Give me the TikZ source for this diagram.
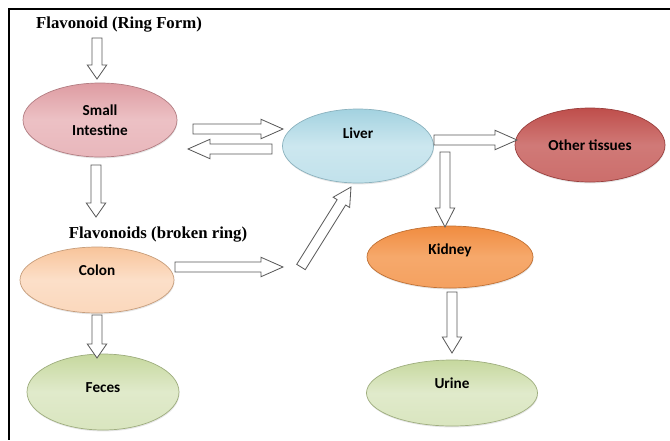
\documentclass[tikz,border=0pt]{standalone}
\usepackage{fontspec}
\setmainfont{Liberation Serif}
\newfontfamily\organfont{Carlito}
\usetikzlibrary{shapes.geometric,calc,shadows}

\definecolor{siPink}{HTML}{DE9CA2}
\definecolor{siPinkL}{HTML}{F1CDD0}
\definecolor{liverBlue}{HTML}{A3D2E0}
\definecolor{liverBlueL}{HTML}{DAEEF4}
\definecolor{tissueRed}{HTML}{BF4E4B}
\definecolor{tissueRedL}{HTML}{D68886}
\definecolor{kidneyOr}{HTML}{F08C40}
\definecolor{kidneyOrL}{HTML}{F8B27A}
\definecolor{colonPeach}{HTML}{F8C49A}
\definecolor{colonPeachL}{HTML}{FDE8D8}
\definecolor{wasteGreen}{HTML}{C6D89E}
\definecolor{wasteGreenL}{HTML}{E9F0DA}

\tikzset{
  organ/.style 2 args = {ellipse, inner sep=0pt, outer sep=0pt,
                minimum width=#1, minimum height=#2, align=center,
                font=\organfont\bfseries\fontsize{13}{17}\selectfont,
                drop shadow={opacity=0.2, shadow xshift=0.4pt, shadow yshift=-1.2pt}},
  skin/.style n args = {3}{top color=#1, bottom color=#2!55!#1, middle color=#2!75!#1,
                draw=#3, line width=0.6pt},
  flavlabel/.style = {font=\bfseries\fontsize{14.3}{16}\selectfont, inner sep=0pt},
  blockarrow/.style = {draw=black!65, fill=white, line width=0.7pt, line join=miter}
}

% hollow block arrow from #2 to #3, head length #1 (px)
\newcommand{\blockarr}[3][16]{%
  \draw[blockarrow] let \p1=($(#3)-(#2)$), \n1={veclen(\x1,\y1)},
        \n2={atan2(\y1,\x1)}, \n3={\n1-#1*\px}, \n4={\hw-\sw} in
    ($(#2)+(\n2+90:\sw)$) -- ++(\n2:\n3) -- ++(\n2+90:\n4) -- (#3)
    -- ($(#2)+(\n2-90:\hw)+(\n2:\n3)$) -- ++(\n2+90:\n4)
    -- ($(#2)+(\n2-90:\sw)$) -- cycle;
}

\begin{document}
\begin{tikzpicture}[x=0.03cm, y=-0.03cm]
	\def \px{0.03cm}
	\def \sw{4.3pt} % half shaft
	\def \hw{8.3pt} % half head

	\useasboundingbox (0,0) rectangle (670,440);

	% Frame
	\draw[line width=1.8pt] (670,9) -- (9,9) -- (9,440);

	% Labels
	\node[flavlabel] (ringform) at (119,25) {Flavonoid (Ring Form)};
	\node[flavlabel] (broken) at (158,235) {Flavonoids (broken ring)};

	% Organs
	\node[organ={154*\px}{74*\px}, skin={siPink}{siPinkL}{siPink!80!black}] (si) at (100,120) {Small\\Intestine};
	\node[organ={151*\px}{74*\px}, skin={liverBlue}{liverBlueL}{liverBlue!85!black}, text depth=22pt] (liver) at (358,146) {Liver};
	\node[organ={150*\px}{74*\px}, skin={tissueRed}{tissueRedL}{tissueRed!80!black}] (tissues) at (590,145) {Other tissues};
	\node[organ={166*\px}{62*\px}, skin={kidneyOr}{kidneyOrL}{kidneyOr!80!black}, text depth=14pt] (kidney) at (450,257) {Kidney};
	\node[organ={171*\px}{66*\px}, skin={wasteGreen}{wasteGreenL}{wasteGreen!80!black}, text depth=17pt] (urine) at (452,393) {Urine};
	\node[organ={154*\px}{66*\px}, skin={colonPeach}{colonPeachL}{colonPeach!80!black}, text depth=17pt] (colon) at (97,280) {Colon};
	\node[organ={152*\px}{76*\px}, skin={wasteGreen}{wasteGreenL}{wasteGreen!80!black}, text depth=7pt] (feces) at (103,392) {Feces};

	% Arrow ends
	\coordinate (a1s) at (97,38);   \coordinate (a1e) at (97,79);
	\coordinate (a2s) at (193,129); \coordinate (a2e) at (283,129);
	\coordinate (a3s) at (272,149); \coordinate (a3e) at (188,149);
	\coordinate (a4s) at (96,165);  \coordinate (a4e) at (96,217);
	\coordinate (a5s) at (175,267); \coordinate (a5e) at (283,267);
	\coordinate (a6s) at (301,267); \coordinate (a6e) at (351,187);
	\coordinate (a7s) at (434,140); \coordinate (a7e) at (517,140);
	\coordinate (a8s) at (445,152); \coordinate (a8e) at (445,227);
	\coordinate (a9s) at (452,292); \coordinate (a9e) at (452,353);
	\coordinate (a10s) at (97,315); \coordinate (a10e) at (97,358);

	% Arrows
	\blockarr[14]{a1s}{a1e}   % ring form -> small intestine
	\blockarr[22]{a2s}{a2e}   % small intestine -> liver
	\blockarr[22]{a3s}{a3e}   % liver -> small intestine
	\blockarr[14]{a4s}{a4e}   % small intestine -> colon
	\blockarr[22]{a5s}{a5e}   % colon -> liver
	\blockarr[18]{a6s}{a6e}
	\blockarr[22]{a7s}{a7e}   % liver -> other tissues
	\blockarr[19]{a8s}{a8e}   % liver -> kidney
	\blockarr[16]{a9s}{a9e}   % kidney -> urine
	\blockarr[14]{a10s}{a10e} % colon -> feces

\end{tikzpicture}
\end{document}
